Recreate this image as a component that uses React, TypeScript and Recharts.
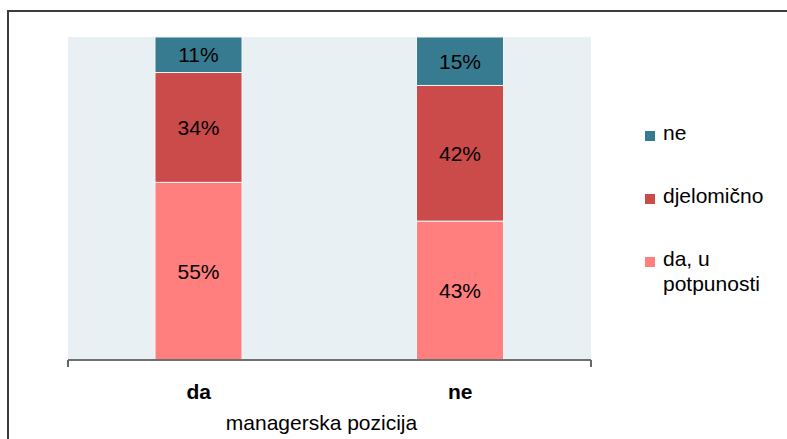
import { BarChart, Bar, XAxis, YAxis, CartesianGrid, LabelList } from 'recharts';

// managerska pozicija -> share of answers (%)
const categories = ['da', 'ne'];
const potpuno = [55, 43]; // da, u potpunosti
const djelomicno = [34, 42];
const ne = [11, 15];

const seriesKeys = ['potpuno', 'djelomicno', 'ne'] as const;
const seriesNames = { potpuno: 'da, u potpunosti', djelomicno: 'djelomično', ne: 'ne' };
const colors = { potpuno: '#FF7F7F', djelomicno: '#CB4B4B', ne: '#377B91' };
const edgeTicks = [0, 1, 2];

const data = categories.map((cat, i) => ({
  cat,
  potpuno: potpuno[i],
  djelomicno: djelomicno[i],
  ne: ne[i],
}));

const font = 'Arial, "Liberation Sans", sans-serif';

// legend lists the top segment first
function LegendBox() {
  const items = [...seriesKeys].reverse();
  return (
    <div style={{ position: 'absolute', left: 645, top: 124, fontFamily: font, fontSize: 21, color: '#000' }}>
      {items.map((key) => (
        <div key={key} style={{ display: 'flex', alignItems: 'flex-start', height: 63 }}>
          <span style={{ width: 10, height: 10, background: colors[key], marginTop: 7, marginRight: 8, flex: 'none' }} />
          <span style={{ width: 110, lineHeight: '25px', marginTop: -4 }}>{seriesNames[key]}</span>
        </div>
      ))}
    </div>
  );
}

// boundary axis: tick marks only, no labels
const NoLabel = () => <g />;

export default function App() {
  return (
    <div style={{ position: 'fixed', left: 0, top: 0, width: 787, height: 439, overflow: 'hidden', background: '#fff' }}>
      <div style={{ position: 'absolute', left: 7, top: 10, width: 900, height: 600, border: '2px solid #3c3c3c' }} />
      <div style={{ position: 'absolute', left: 0, top: 0 }}>
        <BarChart width={787} height={439} data={data} margin={{ top: 37, right: 196, left: 68, bottom: 0 }}>
          <CartesianGrid xAxisId="cat" horizontal={false} vertical={false} fill="#E8F0F4" />
          <XAxis
            xAxisId="cat"
            dataKey="cat"
            height={78}
            axisLine={false}
            tickLine={false}
            tickSize={0}
            tickMargin={23}
            tick={{ fontSize: 21, fontWeight: 'bold', fill: '#000', fontFamily: font }}
            label={{ value: 'managerska pozicija', position: 'insideBottom', offset: 9, dx: -8, fontSize: 21, fill: '#000', fontFamily: font }}
          />
          {/* category boundary ticks */}
          <XAxis
            xAxisId="base"
            type="number"
            domain={[0, 2]}
            allowDataOverflow
            ticks={edgeTicks}
            interval={0}
            tick={<NoLabel />}
            tickSize={7}
            tickLine={{ stroke: '#666666', strokeWidth: 2 }}
            axisLine={{ stroke: '#707070', strokeWidth: 2 }}
            height={1}
          />
          <YAxis hide domain={[0, 100]} />
          {seriesKeys.map((key) => (
            <Bar
              key={key}
              xAxisId="cat"
              dataKey={key}
              name={seriesNames[key]}
              stackId="a"
              fill={colors[key]}
              stroke="#f4f4f4"
              strokeWidth={1}
              barSize={87}
              isAnimationActive={false}
            >
              <LabelList
                dataKey={key}
                position="center"
                formatter={(v: any) => `${v}%`}
                style={{ fontSize: 21, fill: '#000', fontFamily: font }}
              />
            </Bar>
          ))}
        </BarChart>
      </div>
      <LegendBox />
    </div>
  );
}
